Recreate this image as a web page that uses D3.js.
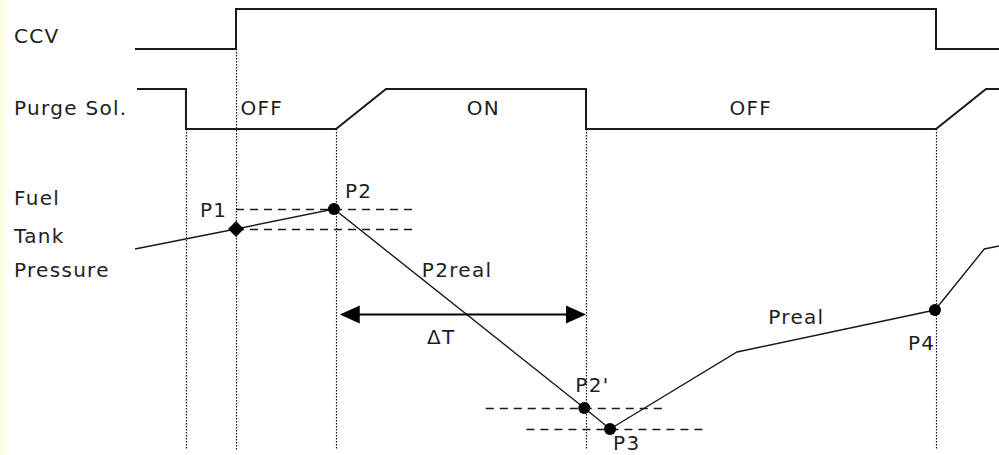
<!DOCTYPE html>
<html>
<head>
<meta charset="utf-8">
<script src="https://cdn.jsdelivr.net/npm/d3@7"></script>
<style>
  html, body { margin: 0; padding: 0; background: #ffffff; }
  svg { display: block; }
  text { font-family: "DejaVu Sans", sans-serif; font-size: 20px; fill: #1e1e1e; letter-spacing: 1.3px; }
</style>
</head>
<body>
<svg id="chart" width="999" height="455"></svg>
<script>
// ---- data (time in arbitrary units 0..100, pressure in arbitrary units 0..50) ----
const ccvTimes   = [0, 11.69, 11.69, 92.71, 92.71, 100];
const ccvLevels  = [0, 0, 1, 1, 0, 0];

const purgeTimes  = [0.23, 5.90, 5.90, 23.26, 29.05, 52.2, 52.2, 92.71, 98.5, 100];
const purgeLevels = [1, 1, 0, 0, 1, 1, 0, 0, 1, 1];
const purgeStates = ["OFF", "ON", "OFF"];
const purgeStateTimes = [12.2, 38.4, 68.8];

const pressTimes  = [0, 11.69, 23.03, 52.0, 54.98, 69.68, 92.59, 98.3, 100];
const pressValues = [40.2, 44.2, 48.2, 8.4, 4.2, 19.6, 28.0, 40.2, 40.8];

const pointNames  = ["P1", "P2", "P2'", "P3", "P4"];
const pointIndex  = [1, 2, 3, 4, 6];
const pointShapes = ["diamond", "circle", "circle", "circle", "circle"];

const eventTimes = [5.90, 11.69, 23.26, 52.2, 92.71];
const eventFrom  = ["purge", "ccv", "purge", "purge", "purge"];

// dashed reference levels: [value, start time, end time]
const refValues = [48.2, 44.2, 8.4, 4.2];
const refStarts = [11.69, 11.69, 40.6, 45.3];
const refEnds   = [32.4, 32.4, 61.3, 66.0];

const deltaT = { start: 23.7, end: 52.2, level: 27.2 };

const rowLabels = ["CCV", "Purge Sol.", "Fuel", "Tank", "Pressure"];

// ---- scales ----
const svg = d3.select("#chart");
const x = d3.scaleLinear().domain([0, 100]).range([135, 999]);
const yCcv = d3.scaleLinear().domain([0, 1]).range([49, 9]);
const yPurge = d3.scaleLinear().domain([0, 1]).range([129, 89]);
const yP = d3.scaleLinear().domain([0, 50]).range([450, 200]);

// left pale strip
svg.append("rect").attr("x", 0).attr("y", 0).attr("width", 6).attr("height", 455).attr("fill", "#fffde6");

// row labels
const labelY = [43, 115, 205, 243, 277];
svg.selectAll("text.row").data(rowLabels).join("text")
  .attr("class", "row").attr("x", 14).attr("y", (d, i) => labelY[i]).text(d => d);

// event dotted lines
svg.selectAll("line.event").data(eventTimes).join("line")
  .attr("class", "event")
  .attr("x1", d => Math.round(x(d)) + 0.5).attr("x2", d => Math.round(x(d)) + 0.5)
  .attr("y1", (d, i) => eventFrom[i] === "ccv" ? yCcv(0) : yPurge(0))
  .attr("y2", yP(0))
  .attr("stroke", "#111").attr("stroke-width", 1.2).attr("stroke-dasharray", "1.5,1.5");

// CCV signal
const ccvLine = d3.line().x(d => x(d[0])).y(d => yCcv(d[1]));
svg.append("path").datum(d3.zip(ccvTimes, ccvLevels)).attr("d", ccvLine)
  .attr("fill", "none").attr("stroke", "#1a1a1a").attr("stroke-width", 2);

// Purge signal
const purgeLine = d3.line().x(d => x(d[0])).y(d => yPurge(d[1]));
svg.append("path").datum(d3.zip(purgeTimes, purgeLevels)).attr("d", purgeLine)
  .attr("fill", "none").attr("stroke", "#1a1a1a").attr("stroke-width", 2);

svg.selectAll("text.state").data(purgeStates).join("text")
  .attr("class", "state").attr("x", (d, i) => x(purgeStateTimes[i])).attr("y", 115).text(d => d);

// dashed reference levels
svg.selectAll("line.ref").data(refValues).join("line")
  .attr("class", "ref")
  .attr("x1", (d, i) => x(refStarts[i])).attr("x2", (d, i) => x(refEnds[i]))
  .attr("y1", d => Math.round(yP(d)) + 0.5).attr("y2", d => Math.round(yP(d)) + 0.5)
  .attr("stroke", "#1a1a1a").attr("stroke-width", 1.3).attr("stroke-dasharray", "8,6");

// pressure line
const pLine = d3.line().x(d => x(d[0])).y(d => yP(d[1]));
svg.append("path").datum(d3.zip(pressTimes, pressValues)).attr("d", pLine)
  .attr("fill", "none").attr("stroke", "#1a1a1a").attr("stroke-width", 1.4);

// points
const pts = pointIndex.map((k, i) => ({ name: pointNames[i], t: pressTimes[k], v: pressValues[k], shape: pointShapes[i] }));
svg.selectAll("path.pt").data(pts).join("path")
  .attr("class", "pt")
  .attr("transform", d => `translate(${x(d.t)},${yP(d.v)})` + (d.shape === "diamond" ? " rotate(45)" : ""))
  .attr("d", d => d3.symbol().type(d.shape === "diamond" ? d3.symbolSquare : d3.symbolCircle).size(d.shape === "diamond" ? 125 : 115)())
  .attr("fill", "#000");

// point labels (offsets from their points)
const ptLabelDx = [-36, 11, -9, 3, -27];
const ptLabelDy = [-12, -11, -16, 21, 40];
svg.selectAll("text.ptl").data(pts).join("text")
  .attr("class", "ptl")
  .attr("x", (d, i) => x(d.t) + ptLabelDx[i]).attr("y", (d, i) => yP(d.v) + ptLabelDy[i])
  .text(d => d.name);

// curve labels
svg.append("text").attr("x", x(33.2)).attr("y", 277).text("P2real");
svg.append("text").attr("x", x(73.3)).attr("y", 324).text("Preal");

// delta T arrow
const ay = Math.round(yP(deltaT.level)) + 0.5;
const xa = x(deltaT.start), xb = x(deltaT.end);
svg.append("line").attr("x1", xa + 10).attr("x2", xb - 10).attr("y1", ay).attr("y2", ay)
  .attr("stroke", "#000").attr("stroke-width", 2);
svg.append("path").attr("d", `M${xa},${ay} L${xa + 20},${ay - 9} L${xa + 20},${ay + 9} Z`).attr("fill", "#000");
svg.append("path").attr("d", `M${xb},${ay} L${xb - 20},${ay - 9} L${xb - 20},${ay + 9} Z`).attr("fill", "#000");
svg.append("text").attr("x", x(33.8)).attr("y", 344).text("\u0394T");
</script>
</body>
</html>
